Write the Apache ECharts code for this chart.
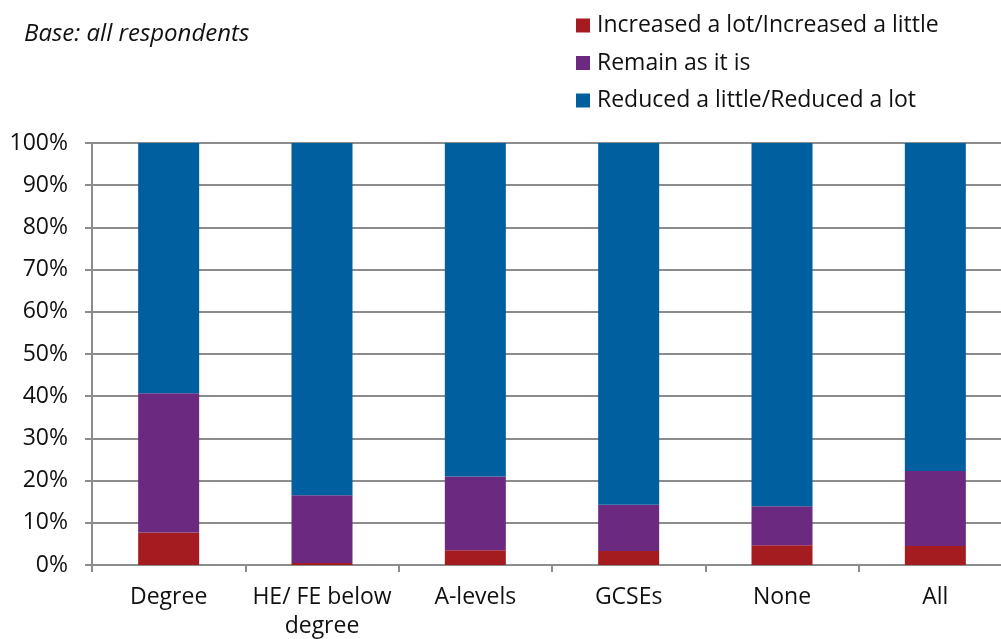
<!DOCTYPE html>
<html><head><meta charset="utf-8">
<script src="https://cdn.jsdelivr.net/npm/echarts@6/dist/echarts.min.js"></script>
<style>html,body{margin:0;padding:0;background:#fff;overflow:hidden}#c{width:100vw;height:100vh}</style>
</head><body><div id="c"></div>
<script>
const categories = ['Degree', 'HE/ FE below\ndegree', 'A-levels', 'GCSEs', 'None', 'All'];
const increased = [7.7, 0.5, 3.5, 3.3, 4.7, 4.5];
const remain = [33.0, 16.0, 17.5, 11.0, 9.2, 17.8];
const reduced = [59.3, 83.5, 79.0, 85.7, 86.1, 77.7];
const seriesNames = ['Increased a lot/Increased a little', 'Remain as it is', 'Reduced a little/Reduced a lot'];
const colors = ['#A51C20', '#6B2A80', '#00609F'];
const yTicks = [0, 10, 20, 30, 40, 50, 60, 70, 80, 90, 100];

const font = '"Open Sans", "Noto Sans", sans-serif';
const chart = echarts.init(document.getElementById('c'));
const mk = (name, data, i) => ({
  name, type: 'bar', stack: 'a', data, barWidth: 61,
  itemStyle: { color: colors[i] }, emphasis: { disabled: true }
});
chart.setOption({
  animation: false,
  title: { text: 'Base: all respondents', left: 19, top: 17,
    textStyle: { fontFamily: font, fontStyle: 'italic', fontWeight: 'normal', fontSize: 24, color: '#111' } },
  legend: {
    orient: 'vertical', left: 571, top: 8, itemGap: 12.5, itemWidth: 14, itemHeight: 14,
    icon: 'rect', data: seriesNames,
    textStyle: { fontFamily: font, fontSize: 23, lineHeight: 25, color: '#111', padding: [0, 0, 0, 2] }
  },
  grid: { left: 92, top: 143, width: 920, height: 422, containLabel: false, outerBoundsMode: 'none' },
  xAxis: {
    type: 'category', data: categories,
    axisLine: { lineStyle: { color: '#8c8c8c', width: 2 } },
    axisTick: { show: true, length: 7, lineStyle: { color: '#8c8c8c', width: 2 } },
    axisLabel: { fontFamily: font, fontSize: 23, color: '#111', margin: 18, lineHeight: 29, interval: 0 }
  },
  yAxis: {
    type: 'value', min: 0, max: 100, interval: 10,
    axisLine: { show: true, lineStyle: { color: '#8c8c8c', width: 2 } },
    axisTick: { show: true, length: 7, lineStyle: { color: '#8c8c8c', width: 2 } },
    splitLine: { lineStyle: { color: '#8c8c8c', width: 2 } },
    axisLabel: { fontFamily: font, fontSize: 23, color: '#111', margin: 24,
      formatter: v => yTicks.includes(v) ? v + '%' : '' }
  },
  series: [mk(seriesNames[0], increased, 0), mk(seriesNames[1], remain, 1), mk(seriesNames[2], reduced, 2)]
});
</script></body></html>
